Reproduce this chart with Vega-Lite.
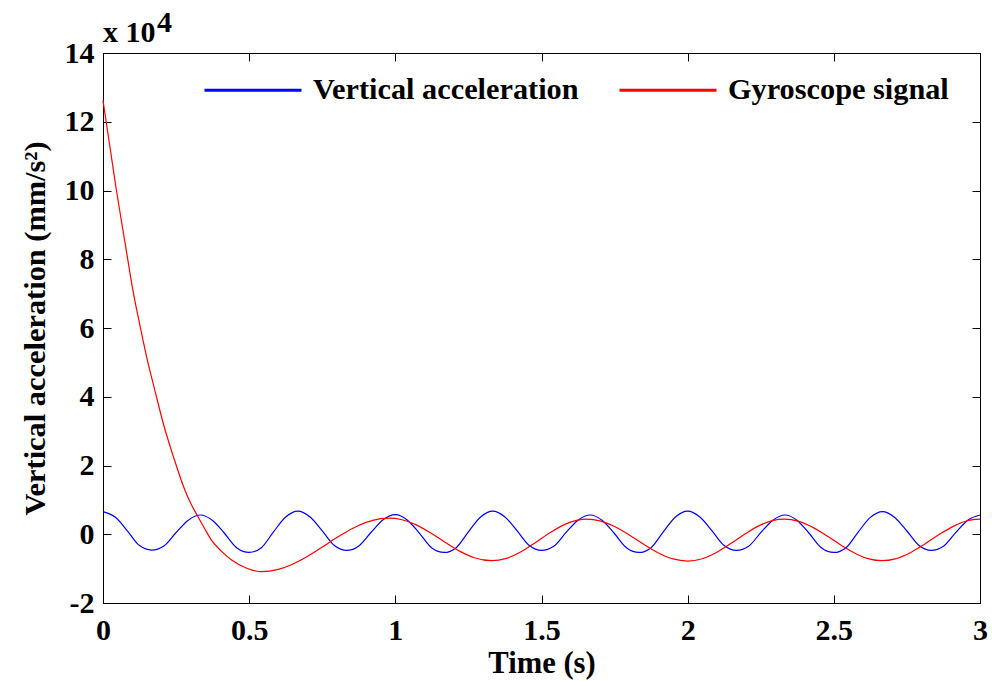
{
  "$schema": "https://vega.github.io/schema/vega-lite/v6.json",
  "width": 877,
  "height": 550,
  "autosize": {"type": "none"},
  "padding": {"left": 103, "top": 53, "right": 12, "bottom": 78},
  "background": "white",
  "config": {"view": {"stroke": "#000", "strokeWidth": 1}, "font": "Liberation Serif"},
  "datasets": {
    "va": [
      {"t": 0, "v": 6600}, {"t": 0.0417, "v": 5000}, {"t": 0.0833, "v": 1000}, {"t": 0.125, "v": -3300}, {"t": 0.1667, "v": -4600},
      {"t": 0.2083, "v": -3400}, {"t": 0.25, "v": 500}, {"t": 0.2917, "v": 4100}, {"t": 0.3333, "v": 5600},
      {"t": 0.375, "v": 4000}, {"t": 0.4167, "v": 150}, {"t": 0.4583, "v": -4000}, {"t": 0.5, "v": -5300},
      {"t": 0.5417, "v": -3900}, {"t": 0.5833, "v": 700}, {"t": 0.625, "v": 5000}, {"t": 0.6667, "v": 6700},
      {"t": 0.7083, "v": 5000}, {"t": 0.75, "v": 1000}, {"t": 0.7917, "v": -3300}, {"t": 0.8333, "v": -4700},
      {"t": 0.875, "v": -3400}, {"t": 0.9167, "v": 500}, {"t": 0.9583, "v": 4200}, {"t": 1.0, "v": 5700},
      {"t": 1.0417, "v": 4100}, {"t": 1.0833, "v": 200}, {"t": 1.125, "v": -4000}, {"t": 1.1667, "v": -5300},
      {"t": 1.2083, "v": -3900}, {"t": 1.25, "v": 700}, {"t": 1.2917, "v": 5000}, {"t": 1.3333, "v": 6700},
      {"t": 1.375, "v": 5000}, {"t": 1.4167, "v": 1000}, {"t": 1.4583, "v": -3300}, {"t": 1.5, "v": -4700},
      {"t": 1.5417, "v": -3500}, {"t": 1.5833, "v": 450}, {"t": 1.625, "v": 4100}, {"t": 1.6667, "v": 5600},
      {"t": 1.7083, "v": 4000}, {"t": 1.75, "v": 150}, {"t": 1.7917, "v": -4000}, {"t": 1.8333, "v": -5300},
      {"t": 1.875, "v": -3900}, {"t": 1.9167, "v": 700}, {"t": 1.9583, "v": 5000}, {"t": 2.0, "v": 6700},
      {"t": 2.0417, "v": 5000}, {"t": 2.0833, "v": 1000}, {"t": 2.125, "v": -3300}, {"t": 2.1667, "v": -4700},
      {"t": 2.2083, "v": -3500}, {"t": 2.25, "v": 450}, {"t": 2.2917, "v": 4100}, {"t": 2.3333, "v": 5600},
      {"t": 2.375, "v": 4000}, {"t": 2.4167, "v": 150}, {"t": 2.4583, "v": -4000}, {"t": 2.5, "v": -5300},
      {"t": 2.5417, "v": -3900}, {"t": 2.5833, "v": 650}, {"t": 2.625, "v": 4900}, {"t": 2.6667, "v": 6600},
      {"t": 2.7083, "v": 4900}, {"t": 2.75, "v": 950}, {"t": 2.7917, "v": -3300}, {"t": 2.8333, "v": -4700},
      {"t": 2.875, "v": -3500}, {"t": 2.9167, "v": 450}, {"t": 2.9583, "v": 4100}, {"t": 3.0, "v": 5600}
    ],
    "gy": [
      {"t": 0, "v": 126200}, {"t": 0.023, "v": 113100}, {"t": 0.046, "v": 100000}, {"t": 0.075, "v": 85000},
      {"t": 0.105, "v": 69700}, {"t": 0.127, "v": 60500}, {"t": 0.149, "v": 51700}, {"t": 0.177, "v": 42000},
      {"t": 0.206, "v": 32300}, {"t": 0.243, "v": 22000}, {"t": 0.28, "v": 12900}, {"t": 0.3, "v": 9000},
      {"t": 0.325, "v": 5100}, {"t": 0.348, "v": 1600}, {"t": 0.371, "v": -1700}, {"t": 0.405, "v": -4900},
      {"t": 0.44, "v": -7500}, {"t": 0.49, "v": -9800}, {"t": 0.542, "v": -10900}, {"t": 0.6, "v": -10230}, {"t": 0.65, "v": -8670},
      {"t": 0.7, "v": -6410}, {"t": 0.75, "v": -3720}, {"t": 0.8, "v": -950}, {"t": 0.85, "v": 1550},
      {"t": 0.9, "v": 3440}, {"t": 0.95, "v": 4520}, {"t": 0.98, "v": 4700}, {"t": 1.02, "v": 4300},
      {"t": 1.07, "v": 2790}, {"t": 1.12, "v": 420}, {"t": 1.17, "v": -2330}, {"t": 1.22, "v": -4910},
      {"t": 1.27, "v": -6830}, {"t": 1.33, "v": -7700}, {"t": 1.38, "v": -7010}, {"t": 1.43, "v": -5090},
      {"t": 1.48, "v": -2380}, {"t": 1.53, "v": 490}, {"t": 1.58, "v": 2880}, {"t": 1.62, "v": 4050},
      {"t": 1.655, "v": 4400}, {"t": 1.7, "v": 3900}, {"t": 1.75, "v": 2260}, {"t": 1.8, "v": -190},
      {"t": 1.85, "v": -2930}, {"t": 1.9, "v": -5430}, {"t": 1.95, "v": -7180}, {"t": 2.0, "v": -7800},
      {"t": 2.05, "v": -7120}, {"t": 2.1, "v": -5230}, {"t": 2.15, "v": -2570}, {"t": 2.2, "v": 300},
      {"t": 2.25, "v": 2720}, {"t": 2.29, "v": 3970}, {"t": 2.33, "v": 4400}, {"t": 2.38, "v": 3750},
      {"t": 2.43, "v": 1930}, {"t": 2.48, "v": -670}, {"t": 2.53, "v": -3470}, {"t": 2.58, "v": -5870},
      {"t": 2.62, "v": -7170}, {"t": 2.665, "v": -7700}, {"t": 2.71, "v": -7170}, {"t": 2.76, "v": -5450},
      {"t": 2.81, "v": -2910}, {"t": 2.86, "v": -100}, {"t": 2.91, "v": 2370}, {"t": 2.96, "v": 3990},
      {"t": 3.0, "v": 4400}
    ],
    "note": [{"k": 1}]
  },
  "layer": [
    {
      "layer": [
        {
          "data": {"name": "va"},
          "transform": [{"calculate": "'Vertical acceleration'", "as": "s"}],
          "mark": {"type": "line", "strokeWidth": 1.2, "interpolate": "monotone"},
          "encoding": {
            "x": {"field": "t", "type": "quantitative"},
            "y": {"field": "v", "type": "quantitative"},
            "color": {"field": "s", "type": "nominal"}
          }
        },
        {
          "data": {"name": "gy"},
          "transform": [{"calculate": "'Gyroscope signal'", "as": "s"}],
          "mark": {"type": "line", "strokeWidth": 1.2, "interpolate": "monotone"},
          "encoding": {
            "x": {"field": "t", "type": "quantitative"},
            "y": {"field": "v", "type": "quantitative"},
            "color": {"field": "s", "type": "nominal"}
          }
        }
      ],
      "encoding": {
        "x": {"field": "t", "type": "quantitative", "scale": {"domain": [0, 3], "nice": false},
          "axis": {"values": [0, 0.5, 1, 1.5, 2, 2.5, 3], "format": "~g", "tickSize": -8, "tickColor": "#000", "domainColor": "#000", "grid": false,
            "labelFontSize": 30, "labelFont": "Liberation Serif", "labelFontWeight": "bold", "labelColor": "#000", "labelPadding": 20, "labelFlush": false,
            "title": "Time (s)", "titleFont": "Liberation Serif", "titleFontSize": 30.6, "titleFontWeight": "bold", "titleColor": "#000", "titlePadding": 3}},
        "y": {"field": "v", "type": "quantitative", "scale": {"domain": [-20000, 140000], "nice": false},
          "axis": {"values": [-20000, 0, 20000, 40000, 60000, 80000, 100000, 120000, 140000], "labelExpr": "'' + (datum.value/10000)", "tickSize": -8, "tickColor": "#000", "domainColor": "#000", "grid": false,
            "labelFontSize": 30, "labelFont": "Liberation Serif", "labelFontWeight": "bold", "labelColor": "#000", "labelPadding": 17, "labelFlush": false,
            "title": "Vertical acceleration (mm/s²)", "titleFont": "Liberation Serif", "titleFontSize": 30.4, "titleFontWeight": "bold", "titleColor": "#000", "titlePadding": 14}},
        "color": {"field": "s", "type": "nominal",
          "scale": {"domain": ["Vertical acceleration", "Gyroscope signal"], "range": ["#0000ff", "#ff0000"]},
          "legend": {"orient": "none", "legendX": 100, "legendY": -13, "direction": "horizontal", "title": null,
            "symbolType": "stroke", "symbolSize": 9409, "symbolStrokeWidth": 3, "labelFontSize": 30.3, "labelFont": "Liberation Serif", "labelFontWeight": "bold", "labelColor": "#000",
            "labelLimit": 500, "labelOffset": 10, "columnPadding": 34, "padding": 0}}
      }
    },
    {
      "data": {"name": "gy"},
      "mark": {"type": "line", "opacity": 0},
      "encoding": {
        "x": {"field": "t", "type": "quantitative", "axis": {"orient": "top", "values": [0, 0.5, 1, 1.5, 2, 2.5, 3], "labels": false, "title": null, "tickSize": -8, "tickColor": "#000", "domainColor": "#000", "grid": false}},
        "y": {"field": "v", "type": "quantitative", "axis": {"orient": "right", "values": [-20000, 0, 20000, 40000, 60000, 80000, 100000, 120000, 140000], "labels": false, "title": null, "tickSize": -8, "tickColor": "#000", "domainColor": "#000", "grid": false}}
      }
    },
    {
      "data": {"name": "note"},
      "mark": {"type": "text", "text": "x 10", "fontSize": 30, "fontWeight": "bold", "font": "Liberation Serif", "align": "left", "baseline": "alphabetic", "dx": 0, "dy": -11, "color": "#000"},
      "encoding": {
        "x": {"datum": 0, "type": "quantitative", "axis": null},
        "y": {"datum": 140000, "type": "quantitative", "axis": null}
      }
    },
    {
      "data": {"name": "note"},
      "mark": {"type": "text", "text": "4", "fontSize": 30, "fontWeight": "bold", "font": "Liberation Serif", "align": "left", "baseline": "alphabetic", "dx": 54, "dy": -21, "color": "#000"},
      "encoding": {
        "x": {"datum": 0, "type": "quantitative", "axis": null},
        "y": {"datum": 140000, "type": "quantitative", "axis": null}
      }
    }
  ],
  "resolve": {"axis": {"x": "independent", "y": "independent"}}
}
